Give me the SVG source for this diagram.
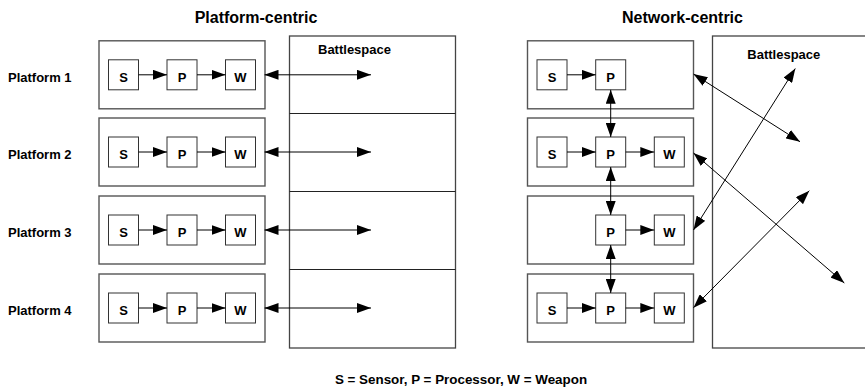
<svg xmlns="http://www.w3.org/2000/svg" width="865" height="387" viewBox="0 0 865 387">
<style>
text{font-family:"Liberation Sans",Arial,Helvetica,sans-serif;font-weight:bold;fill:#000}
.t{font-size:16px;text-anchor:middle}
.l{font-size:13px}
.c{font-size:13px;text-anchor:middle}
.cap{font-size:13.4px;text-anchor:middle}
.plat{fill:#fff;stroke:#555;stroke-width:1.4}
.bs{fill:#fff;stroke:#444;stroke-width:1.3}
.sb{fill:#fff;stroke:#333;stroke-width:1}
.div{stroke:#222;stroke-width:1}
.a{stroke:#000;stroke-width:1;fill:none;marker-end:url(#ah)}
.d{stroke:#000;stroke-width:1;fill:none;marker-end:url(#ah);marker-start:url(#ah)}
</style>
<defs>
<marker id="ah" markerUnits="userSpaceOnUse" markerWidth="14" markerHeight="10" refX="14" refY="5" orient="auto-start-reverse" viewBox="0 0 14 10">
<path d="M0,0 L14,5 L0,10 z" fill="#000"/>
</marker>
</defs>
<rect width="865" height="387" fill="#fff"/>

<text class="t" x="256" y="23">Platform-centric</text>
<text class="t" x="682.5" y="23">Network-centric</text>

<g id="platform-labels">
<text class="l" x="8" y="81.7">Platform 1</text>
<text class="l" x="8" y="159">Platform 2</text>
<text class="l" x="8" y="237">Platform 3</text>
<text class="l" x="8" y="315">Platform 4</text>
</g>

<g id="battlespace-left">
<rect class="bs" x="289.5" y="36" width="166" height="312"/>
<line class="div" x1="289.5" y1="113.5" x2="455.5" y2="113.5"/>
<line class="div" x1="289.5" y1="191.5" x2="455.5" y2="191.5"/>
<line class="div" x1="289.5" y1="269.5" x2="455.5" y2="269.5"/>
<text class="l" x="318" y="54">Battlespace</text>
</g>

<g id="battlespace-right">
<rect class="bs" x="712.5" y="36" width="170" height="312"/>
<text class="l" x="747.3" y="59">Battlespace</text>
</g>

<g id="pc-platform1">
<rect class="plat" x="99" y="40.8" width="166" height="68"/>
<rect class="sb" x="108.5" y="59.8" width="30" height="30"/><text class="c" x="123.5" y="81.5">S</text>
<rect class="sb" x="167" y="59.8" width="30" height="30"/><text class="c" x="182" y="81.5">P</text>
<rect class="sb" x="225.5" y="59.8" width="30" height="30"/><text class="c" x="240.5" y="81.5">W</text>
</g>
<g id="pc-platform2">
<rect class="plat" x="99" y="118" width="166" height="68"/>
<rect class="sb" x="108.5" y="137" width="30" height="30"/><text class="c" x="123.5" y="158.7">S</text>
<rect class="sb" x="167" y="137" width="30" height="30"/><text class="c" x="182" y="158.7">P</text>
<rect class="sb" x="225.5" y="137" width="30" height="30"/><text class="c" x="240.5" y="158.7">W</text>
</g>
<g id="pc-platform3">
<rect class="plat" x="99" y="196" width="166" height="68"/>
<rect class="sb" x="108.5" y="215" width="30" height="30"/><text class="c" x="123.5" y="236.7">S</text>
<rect class="sb" x="167" y="215" width="30" height="30"/><text class="c" x="182" y="236.7">P</text>
<rect class="sb" x="225.5" y="215" width="30" height="30"/><text class="c" x="240.5" y="236.7">W</text>
</g>
<g id="pc-platform4">
<rect class="plat" x="99" y="274" width="166" height="68"/>
<rect class="sb" x="108.5" y="293" width="30" height="30"/><text class="c" x="123.5" y="314.7">S</text>
<rect class="sb" x="167" y="293" width="30" height="30"/><text class="c" x="182" y="314.7">P</text>
<rect class="sb" x="225.5" y="293" width="30" height="30"/><text class="c" x="240.5" y="314.7">W</text>
</g>

<g id="nc-platform1">
<rect class="plat" x="527.5" y="40.8" width="166" height="68"/>
<rect class="sb" x="537" y="59.8" width="30" height="30"/><text class="c" x="552" y="81.5">S</text>
<rect class="sb" x="595.7" y="59.8" width="30" height="30"/><text class="c" x="610.7" y="81.5">P</text>
</g>
<g id="nc-platform2">
<rect class="plat" x="527.5" y="118" width="166" height="68"/>
<rect class="sb" x="537" y="137" width="30" height="30"/><text class="c" x="552" y="158.7">S</text>
<rect class="sb" x="595.7" y="137" width="30" height="30"/><text class="c" x="610.7" y="158.7">P</text>
<rect class="sb" x="654.3" y="137" width="30" height="30"/><text class="c" x="669.3" y="158.7">W</text>
</g>
<g id="nc-platform3">
<rect class="plat" x="527.5" y="196" width="166" height="68"/>
<rect class="sb" x="595.7" y="215" width="30" height="30"/><text class="c" x="610.7" y="236.7">P</text>
<rect class="sb" x="654.3" y="215" width="30" height="30"/><text class="c" x="669.3" y="236.7">W</text>
</g>
<g id="nc-platform4">
<rect class="plat" x="527.5" y="274" width="166" height="68"/>
<rect class="sb" x="537" y="293" width="30" height="30"/><text class="c" x="552" y="314.7">S</text>
<rect class="sb" x="595.7" y="293" width="30" height="30"/><text class="c" x="610.7" y="314.7">P</text>
<rect class="sb" x="654.3" y="293" width="30" height="30"/><text class="c" x="669.3" y="314.7">W</text>
</g>

<g id="connectors">
<line class="a" x1="138.5" y1="74.8" x2="167" y2="74.8"/>
<line class="a" x1="197" y1="74.8" x2="225.5" y2="74.8"/>
<line class="d" x1="264.5" y1="74.8" x2="371" y2="74.8"/>
<line class="a" x1="138.5" y1="152" x2="167" y2="152"/>
<line class="a" x1="197" y1="152" x2="225.5" y2="152"/>
<line class="d" x1="264.5" y1="152" x2="371" y2="152"/>
<line class="a" x1="138.5" y1="230" x2="167" y2="230"/>
<line class="a" x1="197" y1="230" x2="225.5" y2="230"/>
<line class="d" x1="264.5" y1="230" x2="371" y2="230"/>
<line class="a" x1="138.5" y1="308" x2="167" y2="308"/>
<line class="a" x1="197" y1="308" x2="225.5" y2="308"/>
<line class="d" x1="264.5" y1="308" x2="371" y2="308"/>

<line class="a" x1="567" y1="74.8" x2="595.7" y2="74.8"/>
<line class="a" x1="567" y1="152" x2="595.7" y2="152"/>
<line class="a" x1="625.7" y1="152" x2="654.3" y2="152"/>
<line class="a" x1="625.7" y1="230" x2="654.3" y2="230"/>
<line class="a" x1="567" y1="308" x2="595.7" y2="308"/>
<line class="a" x1="625.7" y1="308" x2="654.3" y2="308"/>

<line class="d" x1="610.7" y1="89.8" x2="610.7" y2="137"/>
<line class="d" x1="610.7" y1="167" x2="610.7" y2="215"/>
<line class="d" x1="610.7" y1="245" x2="610.7" y2="293"/>

<line class="d" x1="693.5" y1="74" x2="800" y2="141.7"/>
<line class="d" x1="693.5" y1="153" x2="844.3" y2="283"/>
<line class="d" x1="693.5" y1="230" x2="795.3" y2="68.5"/>
<line class="d" x1="693.5" y1="307.7" x2="809.3" y2="190.7"/>
</g>

<text class="cap" x="461" y="384">S = Sensor, P = Processor, W = Weapon</text>
</svg>
